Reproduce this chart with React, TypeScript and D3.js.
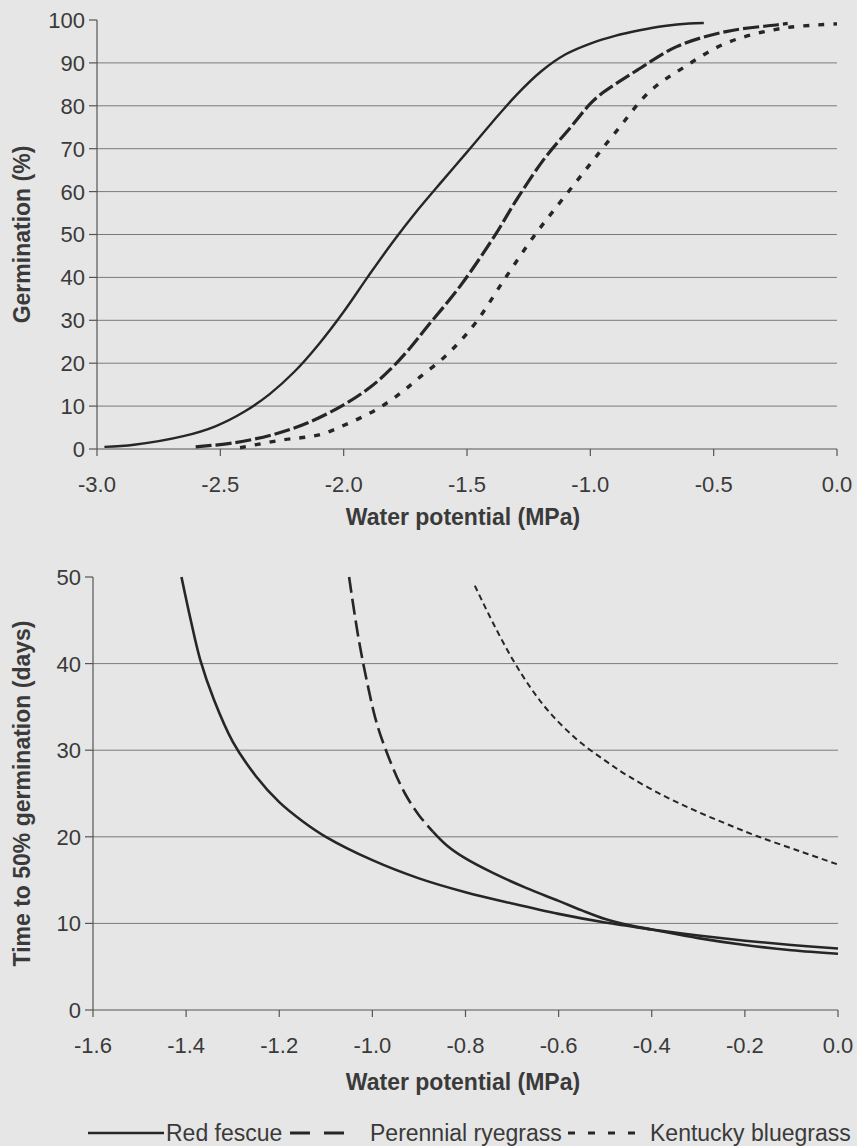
import React from 'react';
import * as d3 from 'd3';

// top panel: germination (%) vs water potential
const rfTopX = [-2.97, -2.85, -2.65, -2.52, -2.4, -2.3, -2.2, -2.1, -2.0, -1.9, -1.8, -1.7, -1.6, -1.5, -1.4, -1.3, -1.2, -1.1, -1.0, -0.9, -0.8, -0.7, -0.6, -0.54];
const rfTopY = [0.5, 1, 3, 5.3, 8.8, 12.8, 18, 24.5, 32, 40.3, 48.3, 55.7, 62.5, 69.2, 76, 82.5, 88, 92, 94.5, 96.3, 97.6, 98.6, 99.2, 99.3];
const prTopX = [-2.6, -2.45, -2.29, -2.15, -2.0, -1.89, -1.81, -1.73, -1.66, -1.53, -1.39, -1.3, -1.19, -1.08, -1.0, -0.96, -0.9, -0.81, -0.65, -0.45, -0.24, -0.2];
const prTopY = [0.5, 1.4, 3.3, 6, 10.3, 14.5, 18.6, 23.6, 28.6, 37.8, 49.5, 58, 67.4, 75, 80.5, 82.6, 85, 88.3, 93.8, 97.3, 98.9, 99.2];
const kbTopX = [-2.42, -2.25, -2.1, -1.98, -1.87, -1.77, -1.69, -1.6, -1.53, -1.46, -1.35, -1.23, -1.15, -1.02, -0.89, -0.76, -0.62, -0.45, -0.23, 0.0];
const kbTopY = [0.3, 2.1, 3.3, 6, 9.1, 13, 16.8, 21, 25, 29.8, 39.4, 49.5, 55.5, 65, 74.4, 83.3, 89, 94.6, 98, 99.1];

// bottom panel: time to 50% germination (days)
const rfBotX = [-1.41, -1.39, -1.37, -1.34, -1.3, -1.25, -1.2, -1.15, -1.1, -1.0, -0.9, -0.8, -0.7, -0.6, -0.5, -0.45, -0.4, -0.3, -0.2, -0.1, 0.0];
const rfBotY = [50, 45, 40.5, 35.8, 31.0, 27.0, 24.0, 21.8, 20, 17.3, 15.2, 13.6, 12.3, 11.1, 10.1, 9.7, 9.3, 8.6, 8.0, 7.5, 7.1];
const prBotX = [-1.05, -1.03, -1.01, -0.99, -0.96, -0.93, -0.9, -0.87, -0.84, -0.8, -0.74, -0.67, -0.6, -0.55, -0.5, -0.45, -0.4, -0.3, -0.2, -0.1, 0.0];
const prBotY = [50, 43, 37.5, 33, 28.5, 25, 22.5, 20.6, 19.0, 17.5, 15.8, 14.1, 12.6, 11.5, 10.5, 9.8, 9.3, 8.3, 7.5, 6.9, 6.5];
const kbBotX = [-0.78, -0.74, -0.7, -0.66, -0.62, -0.56, -0.5, -0.45, -0.38, -0.31, -0.24, -0.17, -0.08, 0.0];
const kbBotY = [49, 44.6, 40.6, 37.2, 34.4, 31.2, 28.8, 27.0, 24.9, 23.1, 21.5, 20, 18.3, 16.8];

const topXTicks = [-3.0, -2.5, -2.0, -1.5, -1.0, -0.5, 0.0];
const topYTicks = [0, 10, 20, 30, 40, 50, 60, 70, 80, 90, 100];
const botXTicks = [-1.6, -1.4, -1.2, -1.0, -0.8, -0.6, -0.4, -0.2, 0.0];
const botYTicks = [0, 10, 20, 30, 40, 50];

const FONT = '"Liberation Sans", Arial, sans-serif';
const TXT = '#3a3a3a';
const INK = '#262626';

const zip = (xs: number[], ys: number[]) => xs.map((x, i) => [x, ys[i]] as [number, number]);

function Panel({ x, y, xTicks, yTicks, yTitle, titleY, children }: any) {
  const [x0, x1] = x.range();
  const [y0, y1] = y.range();
  return (
    <g>
      {yTicks.map((t: number) => (
        <g key={t}>
          {t > 0 && t < yTicks[yTicks.length - 1] && (
            <line x1={x0} x2={x1} y1={y(t)} y2={y(t)} stroke="#7a7a7a" strokeWidth={1} />
          )}
          <line x1={x0 - 8} x2={x0} y1={y(t)} y2={y(t)} stroke="#555" strokeWidth={1.2} />
          <text x={x0 - 12} y={y(t)} dy="0.36em" textAnchor="end" fontSize={22} fill={TXT}>{t}</text>
        </g>
      ))}
      {xTicks.map((t: number) => (
        <g key={t}>
          <line x1={x(t)} x2={x(t)} y1={y0} y2={y0 + 7} stroke="#555" strokeWidth={1.2} />
          <text x={x(t)} y={y0 + 43} textAnchor="middle" fontSize={22} fill={TXT}>{t.toFixed(1)}</text>
        </g>
      ))}
      <line x1={x0} x2={x0} y1={y0} y2={y1} stroke="#555" strokeWidth={1.2} />
      <line x1={x0} x2={x1} y1={y0} y2={y0} stroke="#555" strokeWidth={1.2} />
      {children}
      <text x={463} y={titleY} textAnchor="middle" fontSize={23} fontWeight="bold" fill={TXT}>Water potential (MPa)</text>
      <text transform={`translate(30,${(y0 + y1) / 2}) rotate(-90)`} textAnchor="middle" fontSize={23} fontWeight="bold" fill={TXT}>{yTitle}</text>
    </g>
  );
}

export default function App() {
  const xTop = d3.scaleLinear().domain([-3, 0]).range([97, 837]);
  const yTop = d3.scaleLinear().domain([0, 100]).range([449, 20]);
  const xBot = d3.scaleLinear().domain([-1.6, 0]).range([93, 838]);
  const yBot = d3.scaleLinear().domain([0, 50]).range([1010, 577]);

  const smooth = d3.curveCatmullRom.alpha(0.5);
  const lineTop = d3.line<[number, number]>().x(d => xTop(d[0])).y(d => yTop(d[1])).curve(smooth);
  const lineBot = d3.line<[number, number]>().x(d => xBot(d[0])).y(d => yBot(d[1])).curve(smooth);

  const prBot = zip(prBotX, prBotY);
  const prBotDashed = prBot.filter(d => d[0] <= -0.87);
  const prBotSolid = prBot.filter(d => d[0] >= -0.87);

  return (
    <svg width={857} height={1146} style={{ position: 'absolute', left: 0, top: 0, background: '#e6e6e6' }} fontFamily={FONT}>
      <rect width={857} height={1146} fill="#e6e6e6" />
      <Panel x={xTop} y={yTop} xTicks={topXTicks} yTicks={topYTicks} yTitle="Germination (%)" titleY={525}>
        <path d={lineTop(zip(rfTopX, rfTopY)) || ''} fill="none" stroke={INK} strokeWidth={2.4} />
        <path d={lineTop(zip(prTopX, prTopY)) || ''} fill="none" stroke={INK} strokeWidth={3.2} strokeDasharray="16,4" />
        <path d={lineTop(zip(kbTopX, kbTopY)) || ''} fill="none" stroke={INK} strokeWidth={3.4} strokeDasharray="6,9" />
      </Panel>
      <Panel x={xBot} y={yBot} xTicks={botXTicks} yTicks={botYTicks} yTitle="Time to 50% germination (days)" titleY={1090}>
        <path d={lineBot(zip(rfBotX, rfBotY)) || ''} fill="none" stroke={INK} strokeWidth={2.6} />
        <path d={lineBot(prBotDashed) || ''} fill="none" stroke={INK} strokeWidth={2.6} strokeDasharray="16,6" />
        <path d={lineBot(prBotSolid) || ''} fill="none" stroke={INK} strokeWidth={2.6} />
        <path d={lineBot(zip(kbBotX, kbBotY)) || ''} fill="none" stroke={INK} strokeWidth={2} strokeDasharray="6,4" />
      </Panel>
      <g fontSize={23} fill={TXT}>
        <line x1={88} x2={164} y1={1133} y2={1133} stroke={INK} strokeWidth={2.4} />
        <text x={166} y={1141}>Red fescue</text>
        <line x1={290} x2={344} y1={1133} y2={1133} stroke={INK} strokeWidth={3} strokeDasharray="20,14" />
        <text x={370} y={1141}>Perennial ryegrass</text>
        <line x1={568} x2={646} y1={1133} y2={1133} stroke={INK} strokeWidth={3} strokeDasharray="7,13" />
        <text x={650} y={1141}>Kentucky bluegrass</text>
      </g>
    </svg>
  );
}
